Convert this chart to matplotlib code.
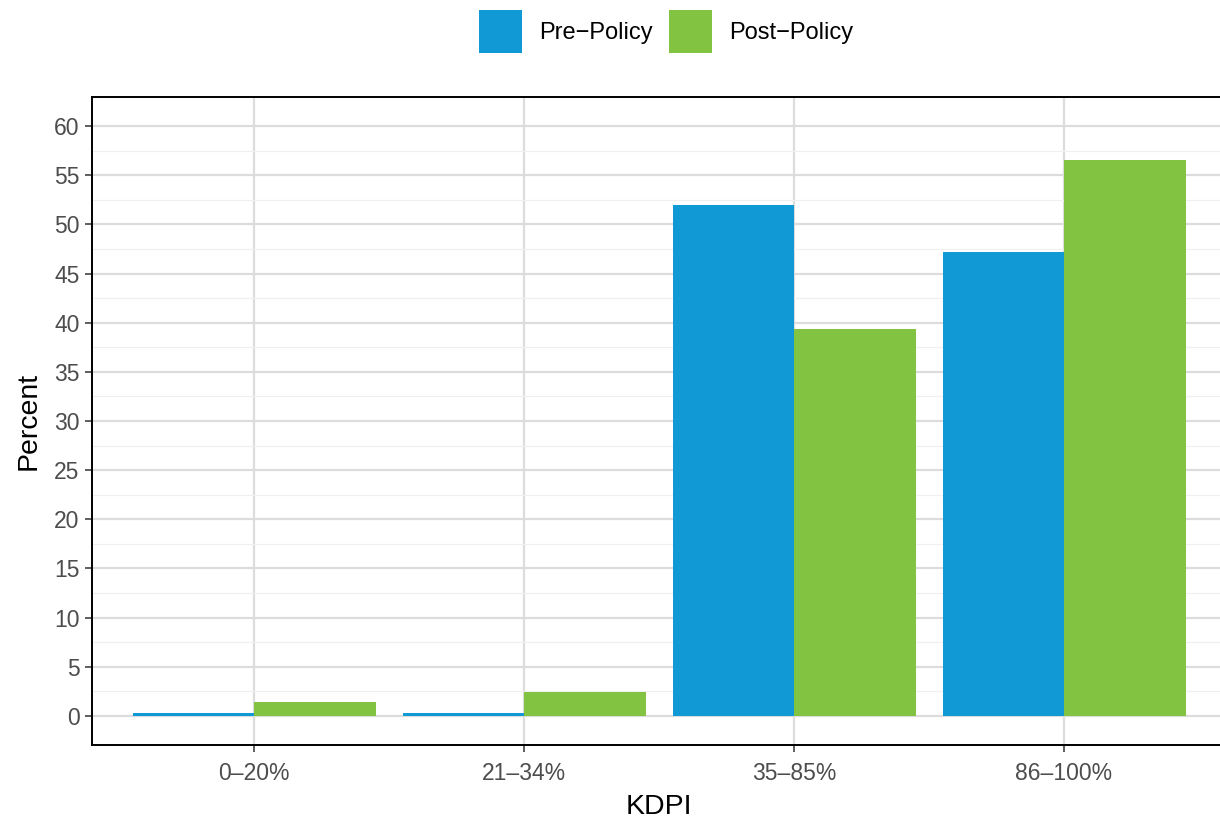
import matplotlib
matplotlib.use("Agg")
import matplotlib.pyplot as plt
import numpy as np
from matplotlib.patches import Patch

categories = ["0\u201320%", "21\u201334%", "35\u201385%", "86\u2013100%"]
pre_policy = [0.3, 0.3, 52.0, 47.2]
post_policy = [1.42, 2.44, 39.36, 56.54]
y_ticks = [0, 5, 10, 15, 20, 25, 30, 35, 40, 45, 50, 55, 60]

plt.rcParams['font.family'] = ['Liberation Sans', 'DejaVu Sans']

fig = plt.figure(figsize=(12.2, 8.23), dpi=100)
ax = fig.add_axes([92/1220, 1-745/823, (1226-92)/1220, (745-97)/823])

blue = "#1199D6"
green = "#82C341"
x = np.arange(1, len(categories) + 1)
w = 0.45
ax.bar(x - w/2, pre_policy, width=w, color=blue, zorder=3, linewidth=0)
ax.bar(x + w/2, post_policy, width=w, color=green, zorder=3, linewidth=0)

ax.set_xlim(0.4, 4.6)
ax.set_ylim(-2.95, 62.95)
ax.set_xticks(x)
ax.set_xticklabels(categories)
ax.set_yticks(y_ticks)
ax.set_yticks(np.arange(2.5, 62.5, 5), minor=True)
ax.tick_params(axis='both', which='major', direction='out', length=5, width=1.1,
               color='#333333', labelcolor='#4D4D4D', labelsize=16.5, pad=4)
ax.tick_params(axis='x', which='major', pad=7)
ax.tick_params(axis='y', which='minor', length=0)

ax.grid(True, which='major', color='#DCDCDC', linewidth=1.6, zorder=0)
ax.grid(True, which='minor', axis='y', color='#F0F0F0', linewidth=0.9, zorder=0)
ax.set_axisbelow(True)
for s in ax.spines.values():
    s.set_color('black')
    s.set_linewidth(1.4)
ax.spines['right'].set_visible(False)

ax.set_xlabel("KDPI", fontsize=20.5, labelpad=7)
ax.set_ylabel("Percent", fontsize=20.5, labelpad=9)

handles = [Patch(facecolor=blue, label="Pre\u2212Policy"),
           Patch(facecolor=green, label="Post\u2212Policy")]
fig.legend(handles=handles, loc='upper center', bbox_to_anchor=(0.546, 0.996),
           ncol=2, frameon=False, fontsize=17, handlelength=1.82, handleheight=2.4,
           handletextpad=0.7, columnspacing=0.7, borderaxespad=0.1, borderpad=0.2)

fig.savefig("out.png", dpi=100)
